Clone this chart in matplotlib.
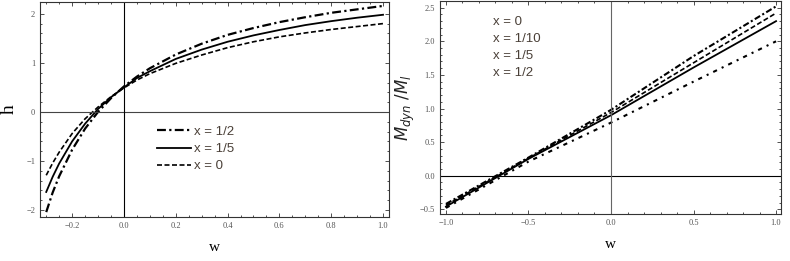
import matplotlib.pyplot as plt
import numpy as np

# left panel: h vs w
w_left = [-0.3, -0.275, -0.25, -0.2, -0.15, -0.1, -0.05, 0.0, 0.05, 0.1, 0.2, 0.3, 0.4, 0.5, 0.6, 0.7, 0.8, 0.9, 1.0]
h_half = [-2.04, -1.64, -1.31, -0.77, -0.34, 0.0, 0.28, 0.52, 0.72, 0.89, 1.17, 1.39, 1.57, 1.71, 1.83, 1.93, 2.02, 2.09, 2.16]
h_fifth = [-1.63, -1.32, -1.05, -0.60, -0.24, 0.06, 0.30, 0.50, 0.69, 0.83, 1.08, 1.27, 1.43, 1.56, 1.67, 1.77, 1.85, 1.92, 1.98]
h_zero = [-1.29, -1.04, -0.82, -0.44, -0.14, 0.10, 0.31, 0.49, 0.65, 0.78, 0.99, 1.16, 1.31, 1.43, 1.53, 1.61, 1.68, 1.74, 1.80]
left_labels = ['x = 1/2', 'x = 1/5', 'x = 0']

# right panel: M_dyn/M_l vs w
w_right = [-1.0, -0.5, 0.0, 0.5, 1.0]
m_0 = [-0.42, 0.27, 0.98, 1.78, 2.52]
m_10 = [-0.44, 0.26, 0.94, 1.68, 2.42]
m_5 = [-0.46, 0.25, 0.90, 1.61, 2.30]
m_2 = [-0.48, 0.21, 0.79, 1.40, 2.00]
right_labels = ['x = 0', 'x = 1/10', 'x = 1/5', 'x = 1/2']

plt.rcParams['font.family'] = ['Liberation Sans', 'DejaVu Sans']
tick_col = '#555555'
txt_col = '#4a4038'

fig = plt.figure(figsize=(7.9, 2.61), dpi=100)
ax1 = fig.add_axes([40/790, 44/261, 349/790, 215/261])
ax2 = fig.add_axes([440/790, 47/261, 341/790, 213/261])

def style(ax):
    ax.tick_params(direction='in', which='both', top=True, right=True,
                   labelsize=6, colors='#333333', labelcolor=tick_col, length=3, width=0.6)
    ax.tick_params(which='minor', length=1.5)
    for lab in ax.get_xticklabels() + ax.get_yticklabels():
        lab.set_family('Liberation Serif')
    for s in ax.spines.values():
        s.set_linewidth(0.8)
        s.set_color('#333333')

dd = (4, 1.5, 1, 1.5)
l1, = ax1.plot(w_left, h_half, color='black', lw=1.6, dashes=dd)
l2, = ax1.plot(w_left, h_fifth, color='black', lw=1.3)
l3, = ax1.plot(w_left, h_zero, color='black', lw=1.2, dashes=(3, 1.5))
ax1.axhline(0, color='#444444', lw=0.8)
ax1.axvline(0, color='black', lw=0.8)
ax1.set_xlim(-0.324, 1.023)
ax1.set_ylim(-2.14, 2.24)
ax1.set_xticks(np.arange(-0.2, 1.01, 0.2))
ax1.set_xticklabels(['\u22120.2', '0.0', '0.2', '0.4', '0.6', '0.8', '1.0'])
ax1.set_yticks([-2, -1, 0, 1, 2])
ax1.set_yticklabels(['\u22122', '\u22121', '0', '1', '2'])
ax1.set_xticks(np.arange(-0.3, 1.01, 0.05), minor=True)
ax1.set_yticks(np.arange(-2, 2.01, 0.2), minor=True)
ax1.set_xlabel('w', family='Liberation Serif', fontsize=11, labelpad=8)
ax1.set_ylabel('h', family='Liberation Serif', fontsize=14, labelpad=6)
leg = ax1.legend([l1, l2, l3], left_labels, loc='upper left', bbox_to_anchor=(0.3, 0.48),
                 frameon=False, fontsize=9.5, handlelength=2.6, handletextpad=0.2,
                 labelspacing=0.38, labelcolor=txt_col)
style(ax1)

ax2.plot(w_right, m_0, color='black', lw=1.5, dashes=(3, 1.2, 1, 1.2))
ax2.plot(w_right, m_10, color='black', lw=1.2, dashes=(3, 1.5))
ax2.plot(w_right, m_5, color='black', lw=1.3)
ax2.plot(w_right, m_2, color='black', lw=1.5, dashes=(2, 2.5, 1, 2.5))
ax2.axhline(0, color='black', lw=0.8)
ax2.axvline(0, color='#666666', lw=0.8)
ax2.set_xlim(-1.036, 1.03)
ax2.set_ylim(-0.57, 2.6)
ax2.set_xticks([-1.0, -0.5, 0.0, 0.5, 1.0])
ax2.set_xticklabels(['\u22121.0', '\u22120.5', '0.0', '0.5', '1.0'])
ax2.set_yticks([-0.5, 0.0, 0.5, 1.0, 1.5, 2.0, 2.5])
ax2.set_yticklabels(['\u22120.5', '0.0', '0.5', '1.0', '1.5', '2.0', '2.5'])
ax2.set_xticks(np.arange(-1.0, 1.01, 0.1), minor=True)
ax2.set_yticks(np.arange(-0.5, 2.51, 0.1), minor=True)
ax2.set_xlabel('w', family='Liberation Serif', fontsize=11, labelpad=8)
ax2.set_ylabel(r'$M_{dyn}\ /M_l$', fontsize=12, labelpad=2, color='#222222')
for i, t in enumerate(right_labels):
    ax2.text(0.155, 0.9 - i * 0.079, t, transform=ax2.transAxes, fontsize=9.5,
             color=txt_col, va='center')
style(ax2)

fig.savefig('out.png', dpi=100)
